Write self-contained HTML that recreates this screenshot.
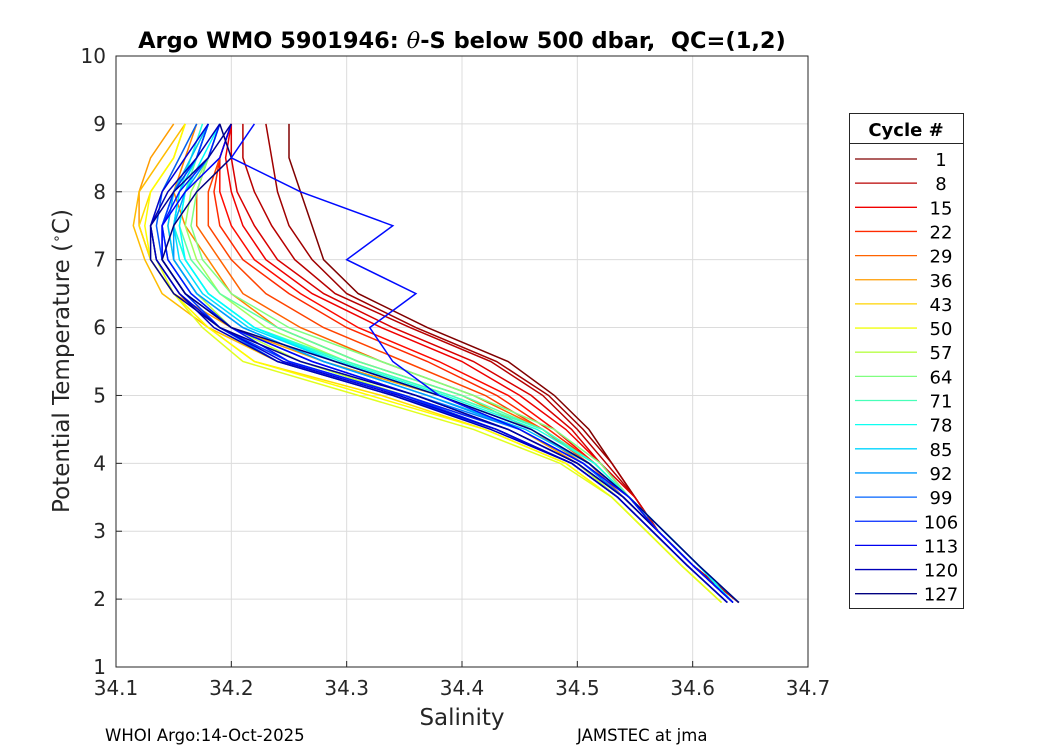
<!DOCTYPE html>
<html><head><meta charset="utf-8"><style>
body{margin:0;background:#fff;}
svg{display:block;font-family:"DejaVu Sans","Liberation Sans",sans-serif;}
</style></head><body>
<svg id="chart" width="1050" height="750" xmlns="http://www.w3.org/2000/svg">
<rect width="1050" height="750" fill="#fff"/>
<g id="grid"></g>
<g id="series"></g>
<rect x="116" y="56" width="692" height="611" fill="none" stroke="#262626" stroke-width="1"/>
<g id="ticks"></g>
<text x="462" y="48" text-anchor="middle" font-size="22.5" font-weight="bold" fill="#000" style="white-space:pre">Argo WMO 5901946: <tspan font-style="italic" font-family="DejaVu Serif,serif" font-weight="normal">θ</tspan>-S below 500 dbar,  QC=(1,2)</text>
<text x="462" y="725" text-anchor="middle" font-size="23" fill="#262626">Salinity</text>
<text transform="translate(69,361) rotate(-90)" text-anchor="middle" font-size="23" fill="#262626">Potential Temperature (<tspan dy="-8" font-size="14">∘</tspan><tspan dy="8">C)</tspan></text>
<text x="105" y="741" font-size="16.5" fill="#000">WHOI Argo:14-Oct-2025</text>
<text x="577" y="741" font-size="16.5" fill="#000">JAMSTEC at jma</text>
<g id="legend">
<rect x="849.5" y="113.5" width="114" height="495" fill="#fff" stroke="#262626"/>
<line x1="849.5" y1="143.5" x2="963.5" y2="143.5" stroke="#262626"/>
<text x="906" y="136" text-anchor="middle" font-size="18" font-weight="bold" fill="#000">Cycle #</text>
</g>
</svg>
<script>
const xTicks=[34.1,34.2,34.3,34.4,34.5,34.6,34.7];
const yTicks=[1,2,3,4,5,6,7,8,9,10];
const legendCycles=[1,8,15,22,29,36,43,50,57,64,71,78,85,92,99,106,113,120,127];
const profileTemp=[1.95,2.5,3,3.5,4,4.5,5,5.5,6,6.5,7,7.5,8,8.5,9];
const profileCycles=[1,5,8,12,15,18,22,25,29,33,36,40,44,48,52,56,60,64,68,72,76,80,84,88,92,96,100,104,108,112,116,120,124,127,110];
const profileSal=[
[34.64,34.6,34.57,34.55,34.53,34.51,34.48,34.44,34.37,34.31,34.28,34.27,34.26,34.25,34.25],
[34.64,34.6,34.57,34.55,34.53,34.505,34.475,34.43,34.36,34.3,34.27,34.25,34.24,34.235,34.23],
[34.64,34.6,34.57,34.55,34.525,34.5,34.47,34.425,34.355,34.29,34.255,34.235,34.22,34.21,34.21],
[34.64,34.6,34.57,34.55,34.52,34.495,34.46,34.41,34.34,34.28,34.24,34.22,34.205,34.2,34.2],
[34.635,34.6,34.57,34.545,34.52,34.49,34.45,34.40,34.33,34.27,34.23,34.21,34.2,34.195,34.2],
[34.635,34.6,34.57,34.545,34.515,34.48,34.44,34.38,34.31,34.26,34.22,34.2,34.19,34.19,34.2],
[34.635,34.6,34.57,34.545,34.515,34.475,34.43,34.37,34.30,34.25,34.21,34.19,34.185,34.19,34.2],
[34.635,34.6,34.57,34.545,34.51,34.47,34.42,34.35,34.28,34.23,34.2,34.18,34.18,34.19,34.2],
[34.635,34.6,34.57,34.54,34.51,34.47,34.41,34.33,34.26,34.21,34.19,34.17,34.17,34.18,34.19],
[34.635,34.6,34.57,34.54,34.505,34.46,34.40,34.31,34.24,34.2,34.18,34.16,34.15,34.16,34.17],
[34.63,34.595,34.565,34.535,34.5,34.45,34.38,34.28,34.2,34.15,34.13,34.12,34.12,34.13,34.15],
[34.63,34.595,34.565,34.535,34.495,34.43,34.34,34.24,34.18,34.14,34.125,34.115,34.12,34.14,34.16],
[34.625,34.59,34.56,34.53,34.49,34.42,34.33,34.22,34.18,34.15,34.13,34.12,34.13,34.15,34.16],
[34.625,34.59,34.56,34.53,34.49,34.42,34.32,34.22,34.18,34.15,34.13,34.125,34.13,34.15,34.16],
[34.625,34.59,34.56,34.53,34.485,34.41,34.31,34.21,34.175,34.15,34.135,34.13,34.14,34.155,34.17],
[34.63,34.595,34.565,34.535,34.5,34.44,34.35,34.26,34.2,34.17,34.15,34.145,34.15,34.165,34.18],
[34.635,34.6,34.57,34.545,34.515,34.47,34.39,34.3,34.23,34.19,34.17,34.16,34.165,34.18,34.19],
[34.635,34.6,34.57,34.545,34.52,34.48,34.41,34.33,34.25,34.2,34.175,34.165,34.17,34.18,34.19],
[34.635,34.6,34.57,34.545,34.515,34.47,34.40,34.31,34.24,34.19,34.165,34.155,34.16,34.17,34.18],
[34.635,34.605,34.575,34.545,34.515,34.47,34.39,34.3,34.22,34.18,34.16,34.15,34.155,34.17,34.18],
[34.635,34.605,34.575,34.545,34.515,34.465,34.385,34.295,34.22,34.18,34.16,34.15,34.155,34.165,34.175],
[34.635,34.605,34.575,34.545,34.51,34.46,34.38,34.29,34.22,34.18,34.16,34.155,34.16,34.175,34.19],
[34.64,34.605,34.575,34.545,34.51,34.46,34.38,34.29,34.215,34.175,34.155,34.15,34.155,34.17,34.18],
[34.64,34.605,34.575,34.545,34.51,34.455,34.37,34.28,34.21,34.17,34.15,34.145,34.15,34.165,34.18],
[34.635,34.6,34.57,34.54,34.505,34.45,34.37,34.28,34.21,34.17,34.15,34.15,34.16,34.18,34.19],
[34.635,34.6,34.57,34.54,34.505,34.45,34.36,34.27,34.2,34.165,34.145,34.14,34.15,34.17,34.18],
[34.63,34.595,34.565,34.535,34.495,34.43,34.34,34.24,34.19,34.16,34.14,34.135,34.14,34.155,34.17],
[34.63,34.595,34.565,34.535,34.495,34.43,34.35,34.25,34.19,34.16,34.14,34.14,34.15,34.17,34.18],
[34.635,34.6,34.57,34.54,34.5,34.44,34.35,34.25,34.2,34.165,34.145,34.14,34.155,34.18,34.19],
[34.635,34.6,34.57,34.54,34.5,34.44,34.36,34.27,34.2,34.16,34.14,34.14,34.16,34.19,34.2],
[34.63,34.595,34.565,34.535,34.495,34.43,34.345,34.245,34.19,34.155,34.135,34.13,34.14,34.16,34.18],
[34.63,34.595,34.565,34.535,34.495,34.425,34.34,34.24,34.185,34.155,34.135,34.13,34.145,34.17,34.19],
[34.635,34.6,34.57,34.54,34.5,34.44,34.36,34.26,34.19,34.15,34.13,34.13,34.15,34.18,34.2],
[34.64,34.605,34.575,34.545,34.51,34.46,34.38,34.29,34.2,34.16,34.14,34.15,34.17,34.2,34.19],
[34.635,34.6,34.57,34.545,34.505,34.45,34.38,34.34,34.32,34.36,34.3,34.34,34.26,34.2,34.22]];
const L=116,R=808,T=56,B=667;
const sx=s=>L+(s-34.1)/0.6*(R-L);
const ty=t=>B-(t-1)/9*(B-T);
function jet(v){const r=Math.min(Math.max(Math.min(4*v-1.5,-4*v+4.5),0),1);const g=Math.min(Math.max(Math.min(4*v-0.5,-4*v+3.5),0),1);const b=Math.min(Math.max(Math.min(4*v+0.5,-4*v+2.5),0),1);return `rgb(${Math.round(r*255)},${Math.round(g*255)},${Math.round(b*255)})`;}
const cyc=c=>jet(1-(c-1)/126);
const NS="http://www.w3.org/2000/svg";
function mk(tag,attrs,parent){const e=document.createElementNS(NS,tag);for(const k in attrs)e.setAttribute(k,attrs[k]);parent.appendChild(e);return e;}
const grid=document.getElementById('grid'),ticks=document.getElementById('ticks');
xTicks.forEach(v=>{const x=sx(v);
 const gl=mk('line',{x1:x,x2:x,y1:T,y2:B,stroke:'#dcdcdc'},grid);
 
 
 mk('line',{x1:x,x2:x,y1:B,y2:B-6,stroke:'#262626'},ticks);
 const t=mk('text',{x:x,y:B+28,'text-anchor':'middle','font-size':20,fill:'#262626'},ticks);t.textContent=v.toFixed(1);
 
 });
yTicks.forEach(v=>{const y=ty(v);
 const gl=mk('line',{x1:L,x2:R,y1:y,y2:y,stroke:'#dcdcdc'},grid);
 
 
 mk('line',{x1:L,x2:L+6,y1:y,y2:y,stroke:'#262626'},ticks);
 const t=mk('text',{x:L-10,y:y+7,'text-anchor':'end','font-size':20,fill:'#262626'},ticks);t.textContent=v;
 
 });
const ser=document.getElementById('series');
profileCycles.forEach((c,i)=>{const pts=profileSal[i].map((s,j)=>sx(s).toFixed(1)+','+ty(profileTemp[j]).toFixed(1)).join(' ');
 const p=mk('polyline',{points:pts,fill:'none',stroke:cyc(c),'stroke-width':1.5},ser);
 
 });
const leg=document.getElementById('legend');
legendCycles.forEach((c,i)=>{const y=159+i*24.15;
 const l=mk('line',{x1:855,x2:917,y1:y,y2:y,stroke:cyc(c),'stroke-width':1.3},leg);
 
 
 const t=mk('text',{x:941,y:y+7,'text-anchor':'middle','font-size':18,fill:'#000'},leg);t.textContent=c;
 
 });
</script>
</body></html>
